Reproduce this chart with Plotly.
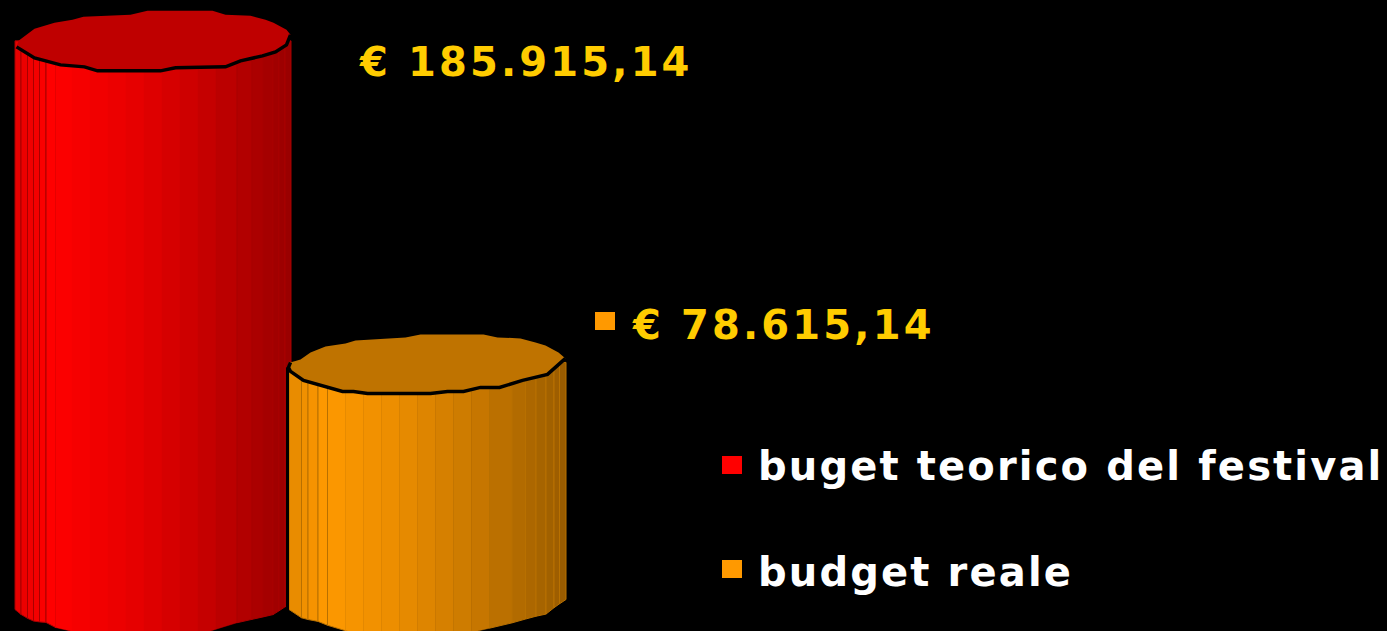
# two cylinders (budget teorico vs reale) on black, pptx style 3D look

import numpy as np
import plotly.graph_objects as go

# Add data
categories = ["buget teorico del festival", "budget reale"]
budget_values = [185915.14, 78615.14]
series_colours = [(255, 0, 0), (255, 153, 0)]
rim_colours = ["#bf0000", "#bf7300"]
facet_line_colours = ["#a80000", "#b87000"]

# axis set up, pixel scale of the picture
WIDTH = 1387
HEIGHT = 631
SLOT_PX = 274
FIRST_SLOT_PX = 153.5
EURO_PER_PX = 333.7
ZERO_PX = 598
AXIS_FLOOR = -2500

# cylinder outlines as offsets from the cylinder centre, in pixels
rim_back = [
    [(-137, 6), (-135, 0), (-119, -12), (-99, -18), (-81, -21), (-70, -24), (-23, -26), (-6, -30),
     (59, -30), (72, -26), (97, -25), (112, -21), (120, -18), (133, -11), (137, -6)],
    [(-139, 5), (-137, 0), (-127, -3), (-117, -10), (-102, -16), (-82, -19), (-72, -22), (-22, -25),
     (-7, -28), (56, -28), (70, -25), (93, -24), (108, -20), (118, -17), (131, -10), (138, -4)],
]
rim_front = [
    [(137, -6), (133, 4), (122, 11), (109, 15), (87, 20), (72, 26), (22, 27), (7, 30),
     (-56, 30), (-69, 26), (-93, 24), (-119, 17), (-137, 6)],
    [(138, -4), (120, 12), (95, 18), (72, 25), (53, 25), (36, 29), (20, 29), (3, 31),
     (-60, 31), (-74, 29), (-85, 29), (-100, 25), (-124, 18), (-137, 9), (-139, 5), (-137, 0)],
]
base_front = [
    [(-138.5, 4), (-130, 11), (-119, 16), (-107, 17), (-98, 22), (-88, 25), (-40, 31), (42, 31),
     (54, 25), (73, 22), (84, 17), (107, 12), (120, 9), (132, 1), (138, -1)],
    [(-138.5, 4), (-125, 13), (-109, 16), (-90, 24), (-70, 27), (-20, 31), (40, 28), (51, 25),
     (70, 21), (86, 17), (107, 11), (118, 9), (128, 1), (138.5, -6)],
]
facet_edges = [
    [-138.5, -132.5, -126, -120, -114, -107.5, -98, -81.5, -63.5, -45.5, -27.5, -9.5, 8.5, 26.5,
     44.5, 62.5, 83.5, 98.5, 109.5, 119.5, 125.5, 131.5, 137.5],
    [-138.5, -126, -119.5, -109.5, -100, -82, -64, -46, -28, -10, 8, 26, 44, 62, 84.5, 98, 108.5,
     118.5, 126.5, 132, 138.5],
]
# shading across the face, 0 = left edge, 1 = right edge
shade_pos = [0, 0.13, 0.4, 0.65, 0.85, 1]
shade_val = [0.9, 1, 0.92, 0.8, 0.69, 0.6]


def euro_text(value):
    txt = f"{value:,.2f}".replace(",", "X").replace(".", ",").replace("X", ".")
    return f"€ {txt}"


def xd(slot, dx):
    return slot + dx / SLOT_PX


def yd(value, dy):
    return value - dy * EURO_PER_PX


fig = go.Figure()

for i, value in enumerate(budget_values):
    edges = facet_edges[i]
    base_x = [p[0] for p in base_front[i]]
    base_y = [p[1] for p in base_front[i]]
    for a, b in zip(edges[:-1], edges[1:]):
        t = ((a + b) / 2 - edges[0]) / (edges[-1] - edges[0])
        s = np.interp(t, shade_pos, shade_val)
        col = tuple(int(c * s) for c in series_colours[i])
        outer = a < -98 or b > 62.5 + 21
        fig.add_trace(
            go.Scatter(
                x=[xd(i, a), xd(i, b), xd(i, b), xd(i, a), xd(i, a)],
                y=[
                    value,
                    value,
                    yd(AXIS_FLOOR, float(np.interp(b, base_x, base_y))),
                    yd(AXIS_FLOOR, float(np.interp(a, base_x, base_y))),
                    value,
                ],
                mode="lines",
                fill="toself",
                fillcolor=f"rgb{col}",
                line=dict(
                    color=facet_line_colours[i] if outer else f"rgb{col}",
                    width=1 if outer else 0.5,
                ),
                hoverinfo="skip",
                showlegend=False,
            )
        )
    # top of the cylinder
    rim = rim_back[i] + rim_front[i][1:]
    fig.add_trace(
        go.Scatter(
            x=[xd(i, p[0]) for p in rim],
            y=[yd(value, p[1]) for p in rim],
            mode="lines",
            fill="toself",
            fillcolor=rim_colours[i],
            line=dict(width=0, color=rim_colours[i]),
            hoverinfo="skip",
            showlegend=False,
        )
    )
    fig.add_trace(
        go.Scatter(
            x=[xd(i, p[0]) for p in rim_front[i]],
            y=[yd(value, p[1]) for p in rim_front[i]],
            mode="lines",
            line=dict(color="black", width=3.5),
            hoverinfo="skip",
            showlegend=False,
        )
    )

# black edge where the orange one stands in front of the red one
fig.add_trace(
    go.Scatter(
        x=[xd(1, -140), xd(1, -140)],
        y=[yd(budget_values[1], 5), yd(AXIS_FLOOR, 8)],
        mode="lines",
        line=dict(color="black", width=3),
        hoverinfo="skip",
        showlegend=False,
    )
)

# value labels and legend, in pixels of the picture
GOLD = "#ffcc00"
value_labels = [(357, 62, 0), (630, 325, 1)]
for px, py, i in value_labels:
    fig.add_annotation(
        x=px / WIDTH,
        y=1 - py / HEIGHT,
        xref="paper",
        yref="paper",
        xanchor="left",
        yanchor="middle",
        showarrow=False,
        text=f'<span style="letter-spacing:3.15px">{euro_text(budget_values[i])}</span>',
        font=dict(family="DejaVu Sans", size=40, color=GOLD, weight="bold"),
    )

legend_y = [466, 572]
for i, name in enumerate(categories):
    fig.add_annotation(
        x=756 / WIDTH,
        y=1 - legend_y[i] / HEIGHT,
        xref="paper",
        yref="paper",
        xanchor="left",
        yanchor="middle",
        showarrow=False,
        text=f'<span style="letter-spacing:2.15px">{name}</span>',
        font=dict(family="DejaVu Sans", size=40, color="white", weight="bold"),
    )

squares = [
    (722, 456, 742, 474, series_colours[0]),
    (722, 560, 742, 578, series_colours[1]),
    (595, 312, 615, 330, series_colours[1]),
]
for x0, y0, x1, y1, col in squares:
    fig.add_shape(
        type="rect",
        xref="paper",
        yref="paper",
        x0=x0 / WIDTH,
        x1=x1 / WIDTH,
        y0=1 - y0 / HEIGHT,
        y1=1 - y1 / HEIGHT,
        fillcolor=f"rgb{col}",
        line=dict(width=0),
    )

fig.update_layout(
    paper_bgcolor="black",
    plot_bgcolor="black",
    autosize=False,
    width=WIDTH,
    height=HEIGHT,
    margin=dict(r=0, t=0, b=0, l=0),
    showlegend=False,
)
fig.update_xaxes(
    visible=False,
    range=[-FIRST_SLOT_PX / SLOT_PX, (WIDTH - FIRST_SLOT_PX) / SLOT_PX],
)
fig.update_yaxes(
    visible=False,
    range=[(ZERO_PX - HEIGHT) * EURO_PER_PX, ZERO_PX * EURO_PER_PX],
)

fig.write_html(
    "out.html",
    config={"displayModeBar": False},
    post_script="document.body.style.margin='0';document.body.style.background='black';document.body.style.overflow='hidden';",
)
